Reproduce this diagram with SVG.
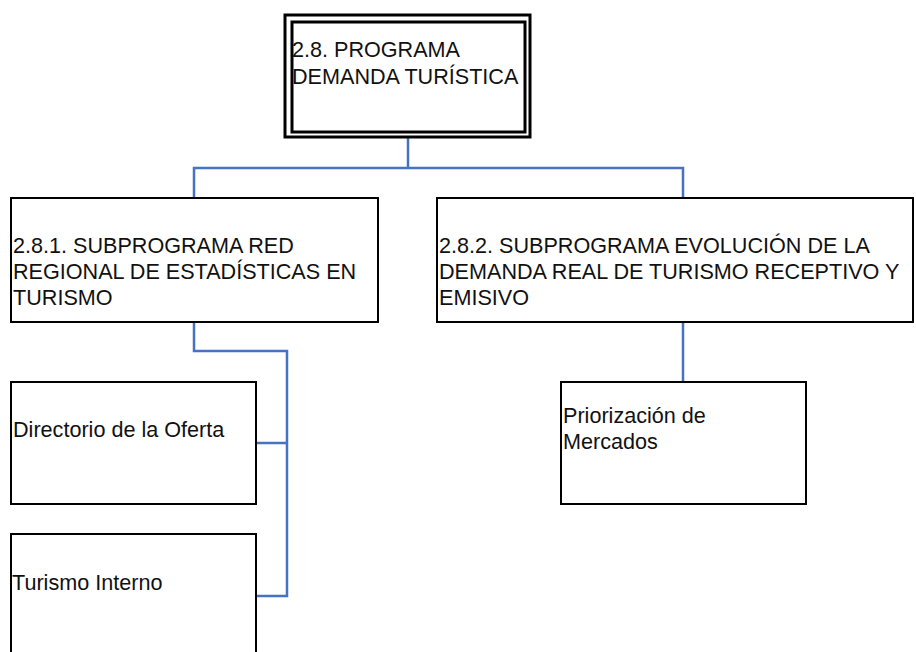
<svg xmlns="http://www.w3.org/2000/svg" width="916" height="652" viewBox="0 0 916 652">
<style>
.box{fill:#fff;stroke:#000;stroke-width:2}
.thick{stroke-width:3}
.t{font-family:"Liberation Sans",Arial,sans-serif;font-size:21.6px;fill:#111}
.c{fill:none;stroke:#4472C4;stroke-width:2.5}
</style>
<rect width="916" height="652" fill="#fff"/>
<g id="connectors">
<polyline class="c" points="408,137 408,168"/>
<polyline class="c" points="194,198 194,168 683,168 683,198"/>
<polyline class="c" points="194,322 194,351 287,351 287,596 256,596"/>
<polyline class="c" points="256,443 287,443"/>
<polyline class="c" points="683,322 683,382"/>
</g>
<g id="n0">
<rect class="box thick" x="285" y="15" width="245" height="122"/>
<rect class="box thick" x="292" y="22" width="233" height="110"/>
<text class="t" x="292" y="57">2.8. PROGRAMA</text>
<text class="t" x="292" y="84">DEMANDA TURÍSTICA</text>
</g>
<g id="n1">
<rect class="box" x="11" y="198" width="367" height="124"/>
<text class="t" x="13" y="253">2.8.1. SUBPROGRAMA RED</text>
<text class="t" x="13" y="279">REGIONAL DE ESTADÍSTICAS EN</text>
<text class="t" x="13" y="305">TURISMO</text>
</g>
<g id="n2">
<rect class="box" x="437" y="198" width="476" height="124"/>
<text class="t" x="439" y="253">2.8.2. SUBPROGRAMA EVOLUCIÓN DE LA</text>
<text class="t" x="439" y="279">DEMANDA REAL DE TURISMO RECEPTIVO Y</text>
<text class="t" x="439" y="305">EMISIVO</text>
</g>
<g id="n3">
<rect class="box" x="11" y="382" width="245" height="122"/>
<text class="t" x="13" y="437">Directorio de la Oferta</text>
</g>
<g id="n4">
<rect class="box" x="11" y="534" width="245" height="130"/>
<text class="t" x="12" y="590">Turismo Interno</text>
</g>
<g id="n5">
<rect class="box" x="561" y="382" width="245" height="122"/>
<text class="t" x="563" y="423">Priorización de</text>
<text class="t" x="563" y="449">Mercados</text>
</g>
</svg>
